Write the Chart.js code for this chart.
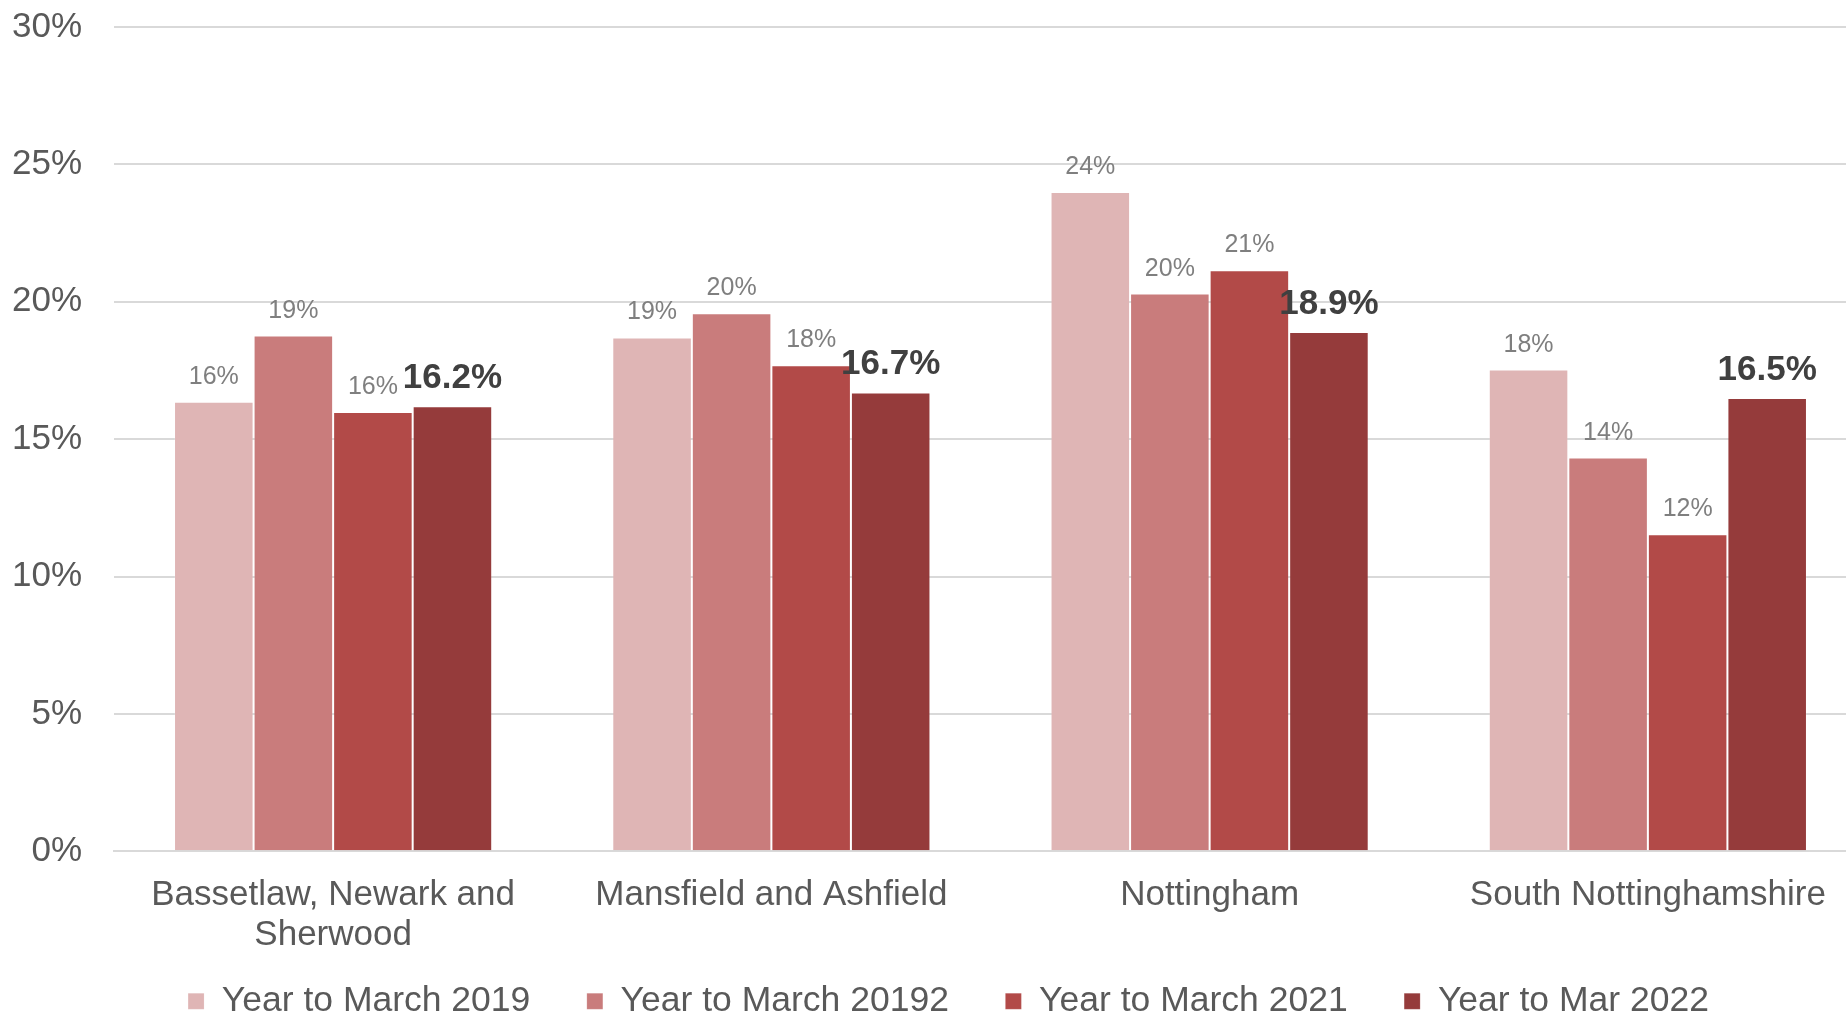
<!DOCTYPE html>
<html>
<head>
<meta charset="utf-8">
<script src="https://cdn.jsdelivr.net/npm/chart.js@4"></script>
<style>
  html, body { margin: 0; padding: 0; background: #fff; overflow: hidden; }
  #wrap { width: 1926px; height: 1026px; }
</style>
</head>
<body>
<div id="wrap"><canvas id="chart"></canvas></div>
<script>
const categories = [['Bassetlaw, Newark and', 'Sherwood'], 'Mansfield and Ashfield', 'Nottingham', 'South Nottinghamshire'];
const seriesNames = ['Year to March 2019', 'Year to March 20192', 'Year to March 2021', 'Year to Mar 2022'];
const year2019  = [16.36, 18.70, 23.99, 17.53];
const year20192 = [18.77, 19.58, 20.30, 14.33];
const year2021  = [15.99, 17.69, 21.15, 11.54];
const year2022  = [16.2, 16.7, 18.9, 16.5];
const yTicks = [0, 5, 10, 15, 20, 25, 30];

const COLORS = ['#dfb5b5', '#c97c7c', '#b24a48', '#953b3b'];
const FONT = '"Liberation Sans", Arial, sans-serif';

Chart.defaults.font.family = FONT;
Chart.defaults.color = '#595959';

// value labels above each bar, last series bold with one decimal
const barLabels = {
  id: 'barLabels',
  afterLayout(chart) {
    // x labels sit partly in the legend band, don't clip them to the axis box
    chart.scales.x.bottom = chart.height;
    // nudge the legend row to where the original sits
    const lg = chart.legend;
    lg.left += 15; lg.right += 15;
    lg.top += 3; lg.bottom += 3;
  },
  afterDatasetsDraw(chart) {
    const ctx = chart.ctx;
    const n = chart.data.datasets.length;
    chart.data.datasets.forEach((ds, i) => {
      const last = i === n - 1;
      ctx.save();
      ctx.font = last ? `bold 35px ${FONT}` : `25px ${FONT}`;
      ctx.fillStyle = last ? '#404040' : '#7f7f7f';
      ctx.textAlign = 'center';
      ctx.textBaseline = 'alphabetic';
      chart.getDatasetMeta(i).data.forEach((bar, j) => {
        const v = ds.data[j];
        const txt = last ? v.toFixed(1) + '%' : Math.round(v) + '%';
        ctx.fillText(txt, bar.x, bar.y - 18);
      });
      ctx.restore();
    });
  }
};

const seriesData = [year2019, year20192, year2021, year2022];

new Chart(document.getElementById('chart'), {
  type: 'bar',
  data: {
    labels: categories,
    datasets: seriesNames.map((name, i) => ({
      label: name,
      data: seriesData[i],
      backgroundColor: COLORS[i],
      borderColor: 'rgba(255,255,255,0.15)',
      borderWidth: 1,
      categoryPercentage: 0.726,
      barPercentage: 1,
    })),
  },
  options: {
    responsive: true,
    maintainAspectRatio: false,
    animation: false,
    layout: { padding: { top: 27, right: 59, left: 0, bottom: 0 } },
    plugins: {
      tooltip: { enabled: false },
      legend: {
        position: 'bottom',
        labels: {
          boxWidth: 16,
          boxHeight: 16,
          padding: 56.5,
          color: '#595959',
          font: { size: 35.5 },
        },
      },
    },
    scales: {
      x: {
        grid: { display: false, drawTicks: false },
        border: { display: true, color: '#d9d9d9', width: 2 },
        ticks: { color: '#595959', font: { size: 35, lineHeight: 1.15 }, padding: 24, maxRotation: 0, autoSkip: false },
        afterFit: s => { s.height = 72.75; },
      },
      y: {
        min: 0,
        max: 30,
        afterBuildTicks: s => { s.ticks = yTicks.map(v => ({ value: v })); },
        grid: { color: '#d9d9d9', lineWidth: 2, drawTicks: false },
        border: { display: false },
        ticks: { color: '#595959', font: { size: 35 }, padding: 32, callback: v => v + '%' },
        afterFit: s => { s.width = 114; s.paddingTop = 0; s.paddingBottom = 0; },
      },
    },
  },
  plugins: [barLabels],
});
</script>
</body>
</html>
